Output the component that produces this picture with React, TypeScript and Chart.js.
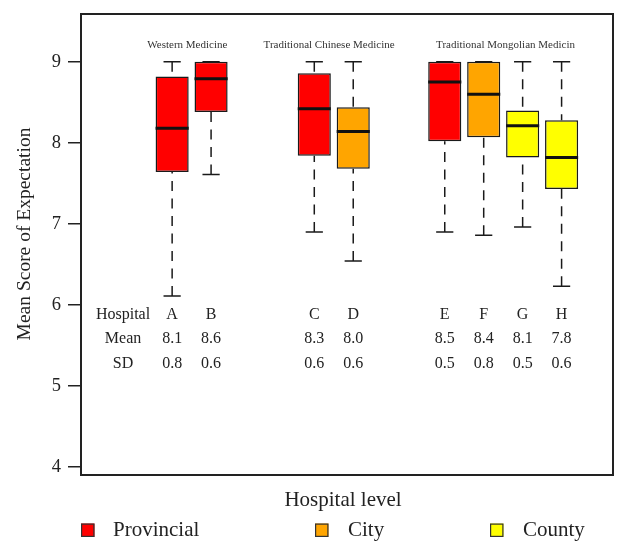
import { useEffect, useRef } from 'react';
import { Chart, registerables } from 'chart.js';

Chart.register(...registerables);

// ---- data ----
const hospitals = ['A', 'B', 'C', 'D', 'E', 'F', 'G', 'H'];
const positions = [1, 2, 4.65, 5.65, 8, 9, 10, 11];
const levels = ['Provincial', 'Provincial', 'Provincial', 'City', 'Provincial', 'City', 'County', 'County'];
const whiskerLow = [6.11, 7.61, 6.9, 6.54, 6.9, 6.86, 6.96, 6.23];
const q1 = [7.64, 8.38, 7.84, 7.68, 8.02, 8.07, 7.82, 7.43];
const median = [8.18, 8.79, 8.42, 8.14, 8.75, 8.6, 8.21, 7.82];
const q3 = [8.82, 9.0, 8.86, 8.44, 9.0, 9.0, 8.4, 8.28];
const whiskerHigh = [9, 9, 9, 9, 9, 9, 9, 9];
const means = ['8.1', '8.6', '8.3', '8.0', '8.5', '8.4', '8.1', '7.8'];
const sds = ['0.8', '0.6', '0.6', '0.6', '0.5', '0.8', '0.5', '0.6'];
const groups = ['Western Medicine', 'Traditional Chinese Medicine', 'Traditional Mongolian Medicin'];
const groupCenters = [1.39, 5.03, 9.56];
const yTicks = [4, 5, 6, 7, 8, 9];
const levelNames = ['Provincial', 'City', 'County'];
const levelColors: Record<string, string> = { Provincial: '#FF0000', City: '#FFA500', County: '#FFFF00' };
const rowLabels = ['Hospital', 'Mean', 'SD'];
const rowLabelX = -0.26;
const rowY = [5.88, 5.58, 5.27];
const groupTitleY = 9.2;

const FONT = '"Liberation Serif", "DejaVu Serif", serif';
const INK = '#1a1a1a';

const boxPlugin = {
  id: 'boxExtras',
  beforeDatasetsDraw(chart: any) {
    const { ctx, scales } = chart;
    const x = scales.x, y = scales.y;
    const meta = chart.getDatasetMeta(0);
    ctx.save();
    meta.data.forEach((bar: any, i: number) => {
      const cx = x.getPixelForValue(positions[i]);
      const capHalf = bar.width * 0.26;
      ctx.strokeStyle = INK;
      ctx.lineWidth = 1.5;
      ctx.setLineDash([10, 7.5]);
      ctx.beginPath();
      ctx.moveTo(cx, y.getPixelForValue(whiskerHigh[i]));
      ctx.lineTo(cx, y.getPixelForValue(q3[i]));
      ctx.moveTo(cx, y.getPixelForValue(whiskerLow[i]));
      ctx.lineTo(cx, y.getPixelForValue(q1[i]));
      ctx.stroke();
      ctx.setLineDash([]);
      ctx.beginPath();
      const yh = y.getPixelForValue(whiskerHigh[i]);
      const yl = y.getPixelForValue(whiskerLow[i]);
      ctx.moveTo(cx - capHalf, yh);
      ctx.lineTo(cx + capHalf, yh);
      ctx.moveTo(cx - capHalf, yl);
      ctx.lineTo(cx + capHalf, yl);
      ctx.stroke();
    });
    ctx.restore();
  },
  afterDatasetsDraw(chart: any) {
    const { ctx, scales, chartArea } = chart;
    const x = scales.x, y = scales.y;
    const meta = chart.getDatasetMeta(0);
    ctx.save();
    // medians
    meta.data.forEach((bar: any, i: number) => {
      const cx = x.getPixelForValue(positions[i]);
      const half = bar.width / 2;
      const ym = y.getPixelForValue(median[i]);
      ctx.strokeStyle = '#111';
      ctx.lineWidth = 3;
      ctx.beginPath();
      ctx.moveTo(cx - half, ym);
      ctx.lineTo(cx + half, ym);
      ctx.stroke();
    });
    // group titles
    ctx.fillStyle = '#333';
    ctx.textAlign = 'center';
    ctx.textBaseline = 'middle';
    ctx.font = `11px ${FONT}`;
    groups.forEach((g, i) => {
      ctx.fillText(g, x.getPixelForValue(groupCenters[i]), y.getPixelForValue(groupTitleY));
    });
    // table
    ctx.font = `16px ${FONT}`;
    ctx.fillStyle = '#222';
    rowLabels.forEach((r, j) => {
      ctx.fillText(r, x.getPixelForValue(rowLabelX), y.getPixelForValue(rowY[j]));
    });
    hospitals.forEach((h, i) => {
      const cx = x.getPixelForValue(positions[i]);
      ctx.fillText(h, cx, y.getPixelForValue(rowY[0]));
      ctx.fillText(means[i], cx, y.getPixelForValue(rowY[1]));
      ctx.fillText(sds[i], cx, y.getPixelForValue(rowY[2]));
    });
    // frame
    ctx.strokeStyle = '#222';
    ctx.lineWidth = 2;
    ctx.strokeRect(chartArea.left, chartArea.top, chartArea.right - chartArea.left, chartArea.bottom - chartArea.top);
    ctx.restore();
  },
  afterDraw(chart: any) {
    const { ctx } = chart;
    ctx.save();
    ctx.fillStyle = '#222';
    ctx.textBaseline = 'middle';
    // y title
    ctx.save();
    ctx.translate(25, 234);
    ctx.rotate(-Math.PI / 2);
    ctx.textAlign = 'center';
    ctx.font = `19.5px ${FONT}`;
    ctx.fillText('Mean Score of Expectation', 0, 0);
    ctx.restore();
    // x title
    ctx.textAlign = 'center';
    ctx.font = `21px ${FONT}`;
    ctx.fillText('Hospital level', 343, 500);
    // legend
    const sqX = [81, 315, 490];
    const txX = [113, 348, 523];
    ctx.textAlign = 'left';
    ctx.font = `21px ${FONT}`;
    levelNames.forEach((n, i) => {
      ctx.fillStyle = levelColors[n];
      ctx.fillRect(sqX[i], 523.5, 13.5, 13.5);
      ctx.strokeStyle = '#333';
      ctx.lineWidth = 1.2;
      ctx.strokeRect(sqX[i] + 0.6, 524.1, 12.3, 12.3);
      ctx.fillStyle = '#222';
      ctx.fillText(n, txX[i], 530);
    });
    ctx.restore();
  },
};

export default function App() {
  const ref = useRef<HTMLCanvasElement | null>(null);
  useEffect(() => {
    document.body.style.margin = '0';
    if (!ref.current) return;
    const chart = new Chart(ref.current, {
      type: 'bar',
      data: {
        datasets: [
          {
            data: positions.map((p, i) => ({ x: p, y: [q1[i], q3[i]] })) as any,
            backgroundColor: levels.map((l) => levelColors[l]),
            borderColor: INK,
            borderWidth: 1.5,
            borderSkipped: false,
            barPercentage: 0.85,
            categoryPercentage: 1,
            grouped: false,
          } as any,
        ],
      },
      options: {
        responsive: false,
        animation: false,
        layout: { padding: { top: 14, right: 15, bottom: 81, left: 0 } },
        plugins: { legend: { display: false }, tooltip: { enabled: false } },
        scales: {
          x: {
            type: 'linear',
            min: -1.34,
            max: 12.32,
            offset: false,
            display: false,
            ticks: { stepSize: 1, includeBounds: false },
          },
          y: {
            type: 'linear',
            min: 3.9,
            max: 9.59,
            afterBuildTicks: (s: any) => {
              s.ticks = yTicks.map((v) => ({ value: v }));
            },
            afterFit: (s: any) => {
              s.width = 81;
              s.paddingTop = 0;
              s.paddingBottom = 0;
            },
            ticks: { font: { family: FONT, size: 18.5 }, color: '#222', padding: 7 },
            grid: { drawOnChartArea: false, tickLength: 13, color: '#222', lineWidth: 1.5 },
            border: { display: false },
          },
        },
      } as any,
      plugins: [boxPlugin],
    });
    return () => chart.destroy();
  }, []);
  return <canvas ref={ref} width={628} height={556} style={{ display: 'block' }} />;
}
